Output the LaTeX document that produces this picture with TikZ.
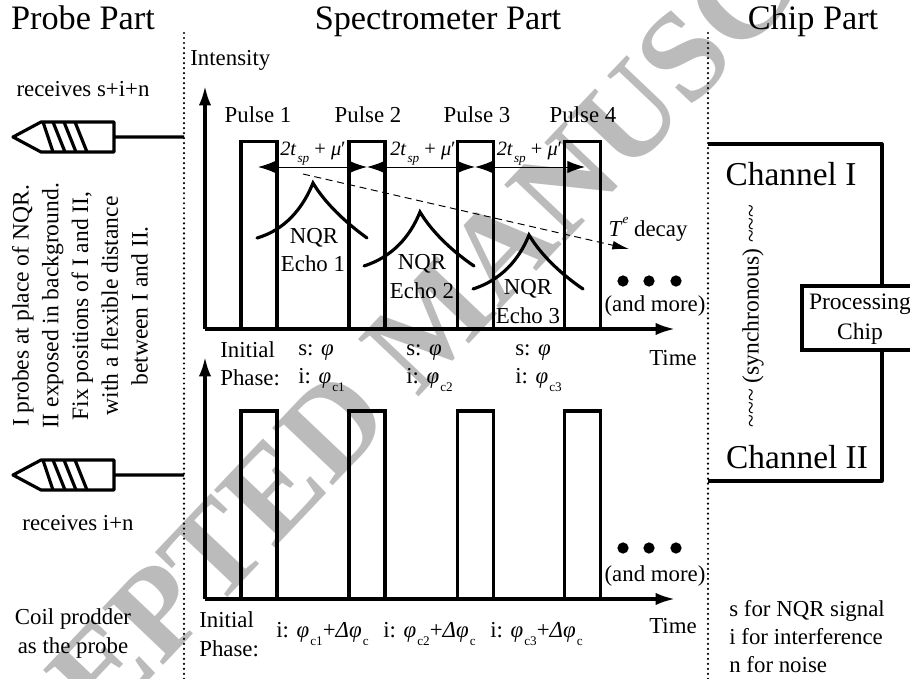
\documentclass[tikz,border=0pt]{standalone}
\usepackage{fontspec}
\setmainfont{Liberation Serif}
\usetikzlibrary{arrows.meta,positioning}
\definecolor{stampgray}{HTML}{BBBBBB}
\newcommand{\lowtxt}[1]{\kern0.6pt\raisebox{-0.85ex}{\fontsize{7.5}{8}\selectfont #1}}
\newcommand{\echogap}{\fontsize{11.6}{14}\selectfont\textit{2t}\lowtxt{\textit{sp}}\ + \textit{μ}′}
\newcommand{\phasec}[1]{i: \textit{φ}\lowtxt{#1}}
\newcommand{\phaseshift}[1]{i: \textit{φ}\lowtxt{#1}+\textit{Δφ}\lowtxt{c}}
\tikzset{
  partlabel/.style={font=\fontsize{19.5}{22}\selectfont, anchor=base},
  channellabel/.style={font=\fontsize{19}{22}\selectfont, anchor=base},
  smalllabel/.style={font=\fontsize{13}{16.5}\selectfont, anchor=base, inner sep=0pt},
  leftlabel/.style={smalllabel, anchor=base west},
  sidetext/.style={font=\fontsize{13.4}{16.9}\selectfont, align=center, inner sep=0pt},
  partline/.style={line width=1.4pt, dash pattern=on 0pt off 2.85pt, line cap=round},
  axisarrow/.style={line width=1.8pt, -{Latex[length=11pt,width=7pt]}},
  pulsebox/.style={rectangle, draw, line width=1.8pt, inner sep=0pt,
    minimum width=0.72cm, minimum height=#1},
  pulsebox/.default=3.76cm,
  echoline/.style={line width=1.8pt, line cap=round},
  gaparrow/.style={line width=0.55pt, {Latex[length=10pt,width=7pt]}-{Latex[length=10pt,width=7pt]}},
  decayarrow/.style={line width=0.55pt, dash pattern=on 4pt off 2.6pt, -{Latex[length=9.5pt,width=5pt]}},
  probeline/.style={line width=1.8pt, line join=round},
  moredot/.style={circle, fill=black, inner sep=0pt, minimum size=0.225cm},
  chipbox/.style={rectangle, draw, line width=1.8pt, inner sep=0pt, minimum width=2.32cm,
    minimum height=1.28cm, fill=white},
}
\begin{document}
\begin{tikzpicture}[x=0.02cm, y=-0.02cm]
  \clip (0,0) rectangle (910,679);
  \fill[white] (0,0) rectangle (910,679);

  % Stamp
  \node[rotate=46.5, text=stampgray, font=\bfseries\fontsize{72.5}{80}\selectfont] (stamp) at (432,322) {ACCEPTED MANUSCRIPT};

  % Labels
  \node[partlabel] (probepart) at (83,30) {Probe Part};
  \node[partlabel] (specpart) at (438,30) {Spectrometer Part};
  \node[partlabel] (chippart) at (813,30) {Chip Part};

  % Dividers
  \coordinate (leftdiv) at (184,33);
  \coordinate (rightdiv) at (708,33);
  \draw[partline] (leftdiv) -- (184,679);
  \draw[partline] (rightdiv) -- (708,679);

  % Probes
  \coordinate (probea) at (184,137);
  \draw[probeline] (probea) -- (114,137) (114,122) -- (114,152) -- (41,152) -- (13,137) -- (41,122) -- cycle;
  \draw[probeline] (43,122) -- (53,152) (53,122) -- (65,152) (64,122) -- (76,152) (75,122) -- (87,152);
  \coordinate (probeb) at (184,475);
  \draw[probeline] (probeb) -- (114,475) (114,460) -- (114,490) -- (41,490) -- (13,475) -- (41,460) -- cycle;
  \draw[probeline] (43,460) -- (53,490) (53,460) -- (65,490) (64,460) -- (76,490) (75,460) -- (87,490);
  \node[smalllabel] (recva) at (83,97) {receives s+i+n};
  \node[smalllabel] (recvb) at (78,530) {receives i+n};
  \node[sidetext, rotate=90] (probetext) at (80,306) {I probes at place of NQR.\\II exposed in background.\\Fix positions of I and II,\\with a flexible distance\\between I and II.};
  \node[smalllabel] (coila) at (73,624) {Coil prodder};
  \node[smalllabel] (coilb) at (73,653) {as the probe};

  % Upper axes
  \coordinate (origa) at (205,329);
  \coordinate (topa) at (205,86);
  \coordinate (enda) at (675,329);
  \node[pulsebox] (pa1) at (259,235.5) {};
  \node[pulsebox] (pa2) at (367,235.5) {};
  \node[pulsebox] (pa3) at (475.5,235.5) {};
  \node[pulsebox] (pa4) at (582.5,235.5) {};
  \draw[axisarrow] (origa) -- (topa);
  \draw[axisarrow] (origa) -- (enda);
  \node[leftlabel] (intensity) at (190,66) {Intensity};
  \node[smalllabel] (pulse1) at (258,123) {Pulse 1};
  \node[smalllabel] (pulse2) at (368,123) {Pulse 2};
  \node[smalllabel] (pulse3) at (477,123) {Pulse 3};
  \node[smalllabel] (pulse4) at (583,123) {Pulse 4};

  % Spacing between pulses
  \coordinate (gapa) at (258,167);
  \coordinate (gapb) at (367,167);
  \coordinate (gapc) at (475,167);
  \coordinate (gapd) at (585,167);
  \draw[gaparrow] (gapa) -- (gapb);
  \draw[gaparrow] (gapb) -- (gapc);
  \draw[gaparrow] (gapc) -- (gapd);
  \node[smalllabel] (spaceab) at (313,155) {\echogap};
  \node[smalllabel] (spacebc) at (423,155) {\echogap};
  \node[smalllabel] (spacecd) at (529.5,155) {\echogap};

  % Echoes
  \draw[echoline] (257,238) .. controls (285,230) and (303,208) .. (313,183) .. controls (325,203) and (345,222) .. (367,238);
  \draw[echoline] (364,266) .. controls (392,257) and (410,237) .. (420,212) .. controls (432,232) and (452,251) .. (474,266);
  \draw[echoline] (473,289) .. controls (501,280) and (519,260) .. (529,235) .. controls (541,255) and (561,274) .. (583,289);
  \node[smalllabel] (nqr1) at (314,243) {NQR};
  \node[smalllabel] (echo1) at (313,271) {Echo 1};
  \node[smalllabel] (nqr2) at (422,269) {NQR};
  \node[smalllabel] (echo2) at (422,298) {Echo 2};
  \node[smalllabel] (nqr3) at (528,294) {NQR};
  \node[smalllabel] (echo3) at (528,323) {Echo 3};

  % Decay
  \coordinate (decaya) at (303,174);
  \coordinate (decayb) at (629,249);
  \draw[decayarrow] (decaya) -- (decayb);
  \node[smalllabel] (decay) at (648,236) {\textit{T}\raisebox{1.2ex}{\fontsize{7.5}{8}\selectfont\textit{e}} decay};

  % More pulses, upper
  \node[moredot] (dota1) at (623,281) {};
  \node[moredot] (dota2) at (649,281) {};
  \node[moredot] (dota3) at (676,281) {};
  \node[smalllabel] (morea) at (655,311) {(and more)};
  \node[smalllabel] (timea) at (673,365) {Time};

  % Phases, upper
  \node[leftlabel] (inita) at (220,357) {Initial};
  \node[leftlabel] (phasea) at (220,385) {Phase:};
  \node[leftlabel] (sa1) at (298,355) {s: \textit{φ}};
  \node[leftlabel] (ia1) at (298,383) {\phasec{c1}};
  \node[leftlabel] (sa2) at (406,355) {s: \textit{φ}};
  \node[leftlabel] (ia2) at (406,383) {\phasec{c2}};
  \node[leftlabel] (sa3) at (515,355) {s: \textit{φ}};
  \node[leftlabel] (ia3) at (515,383) {\phasec{c3}};

  % Lower axes
  \coordinate (origb) at (205,599);
  \coordinate (topb) at (205,357);
  \coordinate (endb) at (675,599);
  \node[pulsebox=3.76cm] (pb1) at (259,505) {};
  \node[pulsebox=3.76cm] (pb2) at (367,505) {};
  \node[pulsebox=3.76cm] (pb3) at (475.5,505) {};
  \node[pulsebox=3.76cm] (pb4) at (582.5,505) {};
  \draw[axisarrow] (origb) -- (topb);
  \draw[axisarrow] (origb) -- (endb);

  % More pulses, lower
  \node[moredot] (dotb1) at (623,548) {};
  \node[moredot] (dotb2) at (649,548) {};
  \node[moredot] (dotb3) at (676,548) {};
  \node[smalllabel] (moreb) at (655,581) {(and more)};
  \node[smalllabel] (timeb) at (673,633) {Time};

  % Phases, lower
  \node[leftlabel] (initb) at (199,627) {Initial};
  \node[leftlabel] (phaseb) at (199,656) {Phase:};
  \node[leftlabel] (ib1) at (276,637) {\phaseshift{c1}};
  \node[leftlabel] (ib2) at (383,637) {\phaseshift{c2}};
  \node[leftlabel] (ib3) at (490,637) {\phaseshift{c3}};

  % Chip
  \node[chipbox] (proc) at (860,318) {};
  \node[sidetext] (proctext) at (860,319) {Processing\\Chip};
  \coordinate (chana) at (708,144);
  \coordinate (chanb) at (708,481);
  \draw[probeline] (chana) -- (882,144) -- (proc.north -| 882,144);
  \draw[probeline] (chanb) -- (882,481) -- (proc.south -| 882,481);
  \node[channellabel] (chan1) at (791,186) {Channel I};
  \node[channellabel] (chan2) at (797,468) {Channel II};
  \node[sidetext, rotate=90] (sync) at (753,316) {\textasciitilde\textasciitilde\textasciitilde\ (synchronous) \textasciitilde\textasciitilde\textasciitilde};
  \node[leftlabel] (legs) at (729,616) {s for NQR signal};
  \node[leftlabel] (legi) at (729,644) {i for interference};
  \node[leftlabel] (legn) at (729,672) {n for noise};
\end{tikzpicture}
\end{document}
